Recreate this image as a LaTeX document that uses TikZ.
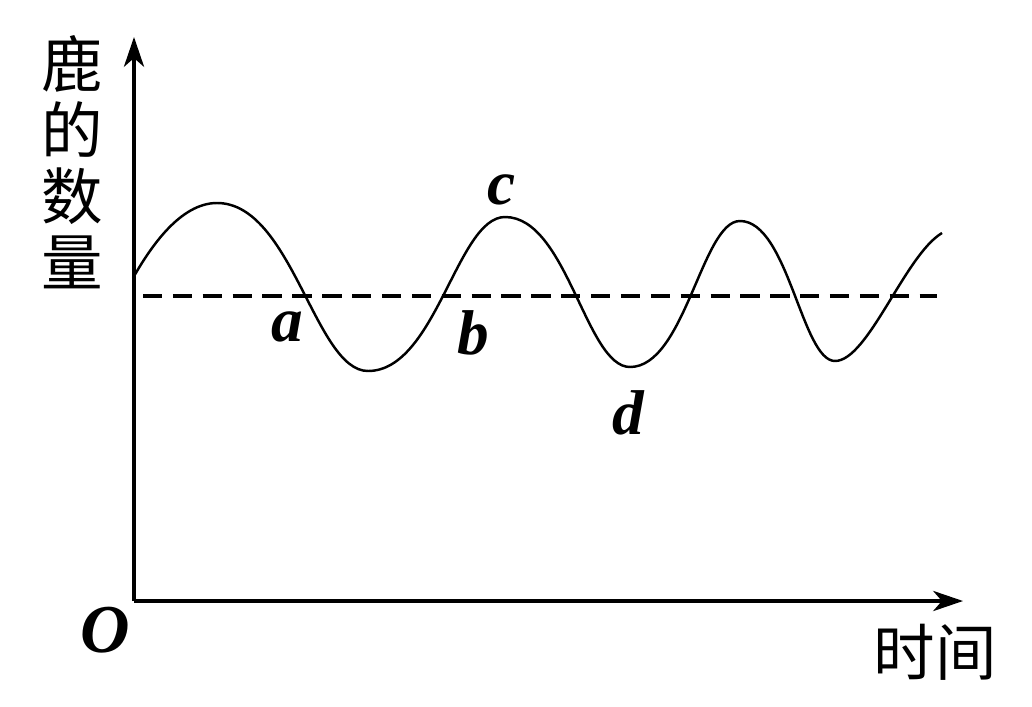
\documentclass[tikz,border=0pt]{standalone}
\usepackage{fontspec}
\setmainfont{Liberation Serif}
\newfontfamily\cjk{Noto Sans CJK SC}
\usetikzlibrary{arrows.meta}
\begin{document}
\begin{tikzpicture}[x=0.02cm,y=-0.02cm,
    axis/.style={line width=1.8pt,-{Stealth[length=17pt,width=11.5pt,inset=5pt]}},
    pt/.style={font=\fontsize{36}{36}\selectfont\bfseries\itshape,inner sep=0pt},
    cn/.style={font=\cjk\fontsize{35}{37.6}\selectfont,inner sep=0pt,align=center}]
    \useasboundingbox (0,0) rectangle (1032,707);
    \coordinate (O) at (134,601);
    \coordinate (ytip) at (134,37);
    \coordinate (xtip) at (963,601);
    \draw [axis] (O)--(ytip);
    \draw [axis] (O)--(xtip);
    \node [cn] (ylab) at (72,162) {鹿\\的\\数\\量};
    \node [cn] (xlab) at (935,652) {时间};
    \node [pt,font=\fontsize{39}{39}\selectfont\bfseries\itshape] (orig) at (105,630) {O};

    \coordinate (m1) at (143,296);
    \coordinate (m2) at (937,296);
    \draw [line width=2.4pt,dash pattern=on 11pt off 6pt] (m1)--(m2);
    % population curve
    \draw [line width=1.4pt] (133,278) .. controls (150,248) and (180,203) .. (217,203)
        .. controls (292,203) and (315,371) .. (368,371)
        .. controls (436,371) and (457,217) .. (505,217)
        .. controls (567,217) and (586,367) .. (630,367)
        .. controls (685,367) and (702,221) .. (740,221)
        .. controls (788,221) and (802,361) .. (835,361)
        .. controls (868,361) and (905,255) .. (942,233);

    \node [pt] (a) at (287,327) {a};
    \node [pt] (b) at (473,333) {b};
    \node [pt] (c) at (502,190) {c};
    \node [pt] (d) at (628,413) {d};
\end{tikzpicture}
\end{document}
